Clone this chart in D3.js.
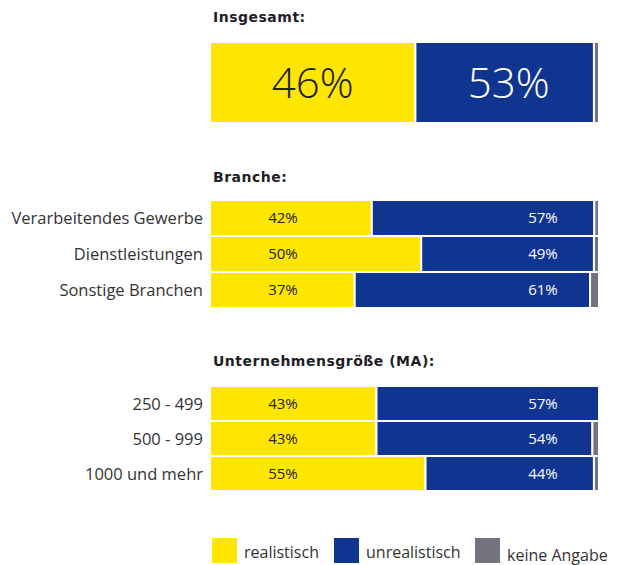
<!DOCTYPE html>
<html>
<head>
<meta charset="utf-8">
<script src="https://cdn.jsdelivr.net/npm/d3@7"></script>
<style>
  body { margin: 0; background: #fff; }
  text { font-family: "Open Sans", sans-serif; }
  .title { font-family: "DejaVu Sans", sans-serif; letter-spacing: 0.5px; }
</style>
</head>
<body>
<div id="chart"></div>
<script>
const width = 617;
const height = 565;

// Kategorien
const groupTitles = ["Insgesamt:", "Branche:", "Unternehmensgröße (MA):"];
const gesamt = ["Insgesamt"];
const branchen = ["Verarbeitendes Gewerbe", "Dienstleistungen", "Sonstige Branchen"];
const groessen = ["250 - 499", "500 - 999", "1000 und mehr"];
const seriesNames = ["realistisch", "unrealistisch", "keine Angabe"];

// gedruckte Prozentwerte (Reihenfolge: Insgesamt, Branchen, Größen)
const realistisch = [46, 42, 50, 37, 43, 43, 55];
const unrealistisch = [53, 57, 49, 61, 57, 54, 44];

// Balkenlängen wie im Bild gezeichnet (% der vollen Balkenlänge)
const barRealistisch = [52.8, 41.6, 54.3, 37.2, 42.8, 42.8, 55.4];
const barUnrealistisch = [45.9, 57.2, 44.4, 60.5, 57.2, 55.5, 43.3];
const barKeineAngabe = [1.3, 1.2, 1.3, 2.3, 0, 1.7, 1.3];

const colors = ["#ffe600", "#0f3591", "#747480"];

const svg = d3.select("#chart").append("svg")
  .attr("width", width)
  .attr("height", height);

const x = d3.scaleLinear().domain([0, 100]).range([210, 599]);

const rowNames = gesamt.concat(branchen, groessen);
const table = rowNames.map((name, i) => ({
  name: name,
  index: i,
  realistisch: barRealistisch[i],
  unrealistisch: barUnrealistisch[i],
  "keine Angabe": barKeineAngabe[i]
}));

const stack = d3.stack().keys(seriesNames)(table);

// y-Skalen pro Gruppe
const yGesamt = d3.scaleBand().domain(gesamt).range([42, 123]);
const yBranche = d3.scaleBand().domain(branchen).range([200, 308]);
const yGroesse = d3.scaleBand().domain(groessen).range([386, 491]);
const yFor = (i) => (i === 0 ? yGesamt : i <= 3 ? yBranche : yGroesse);

// Gruppentitel
const titleY = [22, 182, 366];
svg.selectAll(".title")
  .data(groupTitles)
  .enter()
  .append("text")
  .attr("class", "title")
  .attr("x", 213)
  .attr("y", (d, i) => titleY[i])
  .attr("font-size", 14)
  .attr("font-weight", "bold")
  .attr("fill", "#1e1e28")
  .text((d) => d);

// Balken
svg.selectAll(".series")
  .data(stack)
  .enter()
  .append("g")
  .attr("class", "series")
  .attr("fill", (d, i) => colors[i])
  .selectAll("rect")
  .data((d) => d.filter((p) => p[1] - p[0] > 0))
  .enter()
  .append("rect")
  .attr("x", (d) => x(d[0]))
  .attr("y", (d) => yFor(d.data.index)(d.data.name))
  .attr("width", (d) => x(d[1]) - x(d[0]))
  .attr("height", (d) => yFor(d.data.index).bandwidth())
  .attr("stroke", "#fff")
  .attr("stroke-width", 2);

// Zeilenbeschriftungen
svg.selectAll(".rowlabel")
  .data(rowNames.slice(1))
  .enter()
  .append("text")
  .attr("class", "rowlabel")
  .attr("x", 203)
  .attr("y", (d, i) => yFor(i + 1)(d) + yFor(i + 1).bandwidth() / 2 + 6)
  .attr("text-anchor", "end")
  .attr("font-size", 16.5)
  .attr("fill", "#333")
  .text((d) => d);

// Prozentwerte Insgesamt (groß)
const g0 = table[0];
svg.append("text")
  .attr("x", (x(0) + x(g0.realistisch)) / 2)
  .attr("y", yGesamt("Insgesamt") + yGesamt.bandwidth() / 2 + 15)
  .attr("text-anchor", "middle")
  .attr("font-size", 42)
  .attr("font-weight", 300)
  .attr("fill", "#222")
  .text(realistisch[0] + "%");
svg.append("text")
  .attr("x", (x(g0.realistisch) + x(g0.realistisch + g0.unrealistisch)) / 2 + 4)
  .attr("y", yGesamt("Insgesamt") + yGesamt.bandwidth() / 2 + 15)
  .attr("text-anchor", "middle")
  .attr("font-size", 42)
  .attr("font-weight", 300)
  .attr("fill", "#fff")
  .text(unrealistisch[0] + "%");

// Prozentwerte der Zeilen
const labelRealX = 283;
const labelUnrealX = 543;
rowNames.slice(1).forEach((name, k) => {
  const i = k + 1;
  const y = yFor(i);
  const cy = y(name) + y.bandwidth() / 2 + 5;
  svg.append("text")
    .attr("x", labelRealX)
    .attr("y", cy)
    .attr("text-anchor", "middle")
    .attr("font-size", 15)
    .attr("fill", "#222")
    .text(realistisch[i] + "%");
  svg.append("text")
    .attr("x", labelUnrealX)
    .attr("y", cy)
    .attr("text-anchor", "middle")
    .attr("font-size", 15)
    .attr("fill", "#fff")
    .text(unrealistisch[i] + "%");
});

// Legende
const legendX = [212, 334, 475];
const legendTextY = [558, 558, 561];
const legend = svg.selectAll(".legend")
  .data(seriesNames)
  .enter()
  .append("g")
  .attr("class", "legend");

legend.append("rect")
  .attr("x", (d, i) => legendX[i])
  .attr("y", 538)
  .attr("width", 25)
  .attr("height", 25)
  .attr("fill", (d, i) => colors[i]);

legend.append("text")
  .attr("x", (d, i) => legendX[i] + 32)
  .attr("y", (d, i) => legendTextY[i])
  .attr("font-size", 16)
  .attr("fill", "#333")
  .text((d) => d);
</script>
</body>
</html>
